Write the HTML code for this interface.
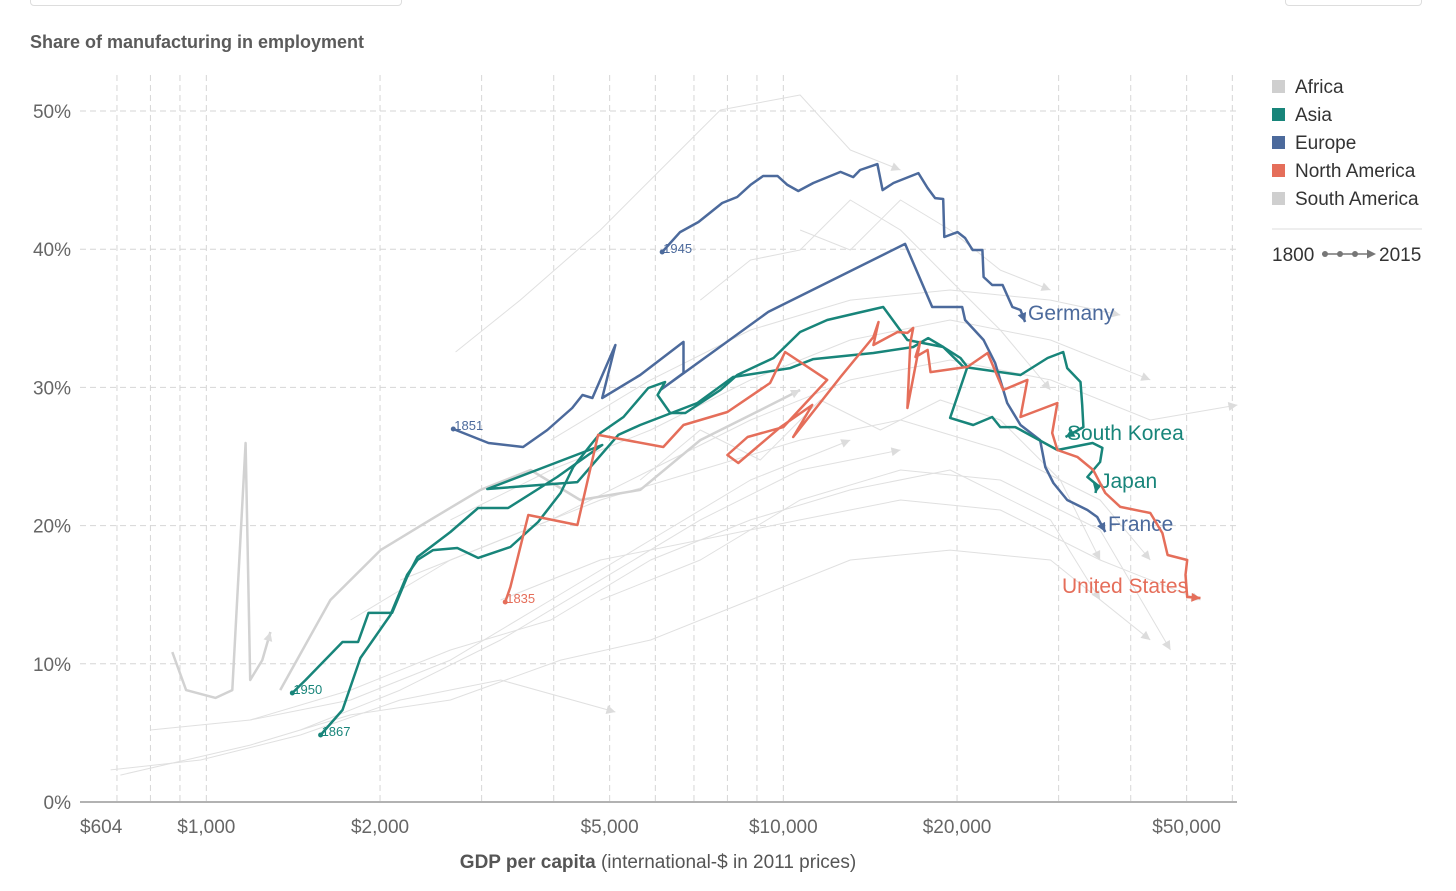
<!DOCTYPE html>
<html><head><meta charset="utf-8">
<style>
body{margin:0;background:#fff;font-family:"Liberation Sans",sans-serif;}
#wrap{position:relative;width:1456px;height:891px;overflow:hidden;background:#fff}
svg text{font-family:"Liberation Sans",sans-serif}
</style></head>
<body>
<div id="wrap">
<div style="position:absolute;left:30px;top:-8px;width:370px;height:12px;border:1px solid #ddd;border-radius:4px"></div>
<div style="position:absolute;left:1285px;top:-8px;width:135px;height:12px;border:1px solid #ddd;border-radius:4px"></div>
<svg id="chart" width="1456" height="891" style="position:absolute;left:0;top:0"></svg>
</div>
<script>
// ---- data: log10 GDP per capita and manufacturing share (%) ----
const yTicks=[0,10,20,30,40,50];
const yTickLabels=["0%","10%","20%","30%","40%","50%"];
const xGrid=[700,800,900,1000,2000,3000,4000,5000,6000,7000,8000,9000,10000,20000,30000,40000,50000,60000];
const xTicks=[604,1000,2000,5000,10000,20000,50000];
const xTickLabels=["$604","$1,000","$2,000","$5,000","$10,000","$20,000","$50,000"];

const germanyLg=[3.790,3.821,3.853,3.894,3.920,3.943,3.965,3.990,4.007,4.026,4.052,4.099,4.121,4.133,4.163,4.172,4.191,4.234,4.250,4.263,4.277,4.279,4.302,4.315,4.328,4.345,4.347,4.362,4.380,4.397,4.411,4.419];
const germanyPct=[39.80,41.24,41.97,43.34,43.78,44.65,45.30,45.30,44.65,44.21,44.79,45.59,45.22,45.73,46.16,44.28,44.79,45.51,44.43,43.70,43.63,40.88,41.24,40.81,39.94,39.94,37.99,37.41,37.41,35.82,35.60,34.73];

const franceLg=[3.428,3.489,3.549,3.591,3.634,3.652,3.669,3.709,3.686,3.752,3.827,3.827,3.787,3.974,4.211,4.258,4.310,4.315,4.347,4.367,4.388,4.411,4.445,4.454,4.468,4.492,4.527,4.544,4.558];
const francePct=[26.99,25.98,25.69,26.92,28.51,29.45,29.23,33.07,29.23,30.90,33.29,31.04,29.81,35.46,40.38,35.82,35.82,34.88,33.43,31.77,28.87,27.28,26.19,24.24,23.08,21.85,21.13,20.62,19.54];

const japanLg=[3.198,3.236,3.267,3.319,3.348,3.366,3.393,3.435,3.471,3.527,3.575,3.614,3.636,3.666,3.683,3.723,3.766,3.795,3.782,3.804,3.830,3.891,3.920,3.983,4.029,4.076,4.128,4.173,4.215,4.277,4.307,4.319,4.289,4.329,4.362,4.376,4.402,4.475,4.536,4.553,4.549,4.527,4.544,4.541];
const japanPct=[4.85,6.66,10.42,13.53,16.43,17.51,18.23,18.38,17.66,18.45,20.26,22.36,24.24,25.83,26.70,27.86,29.96,30.39,29.45,28.15,28.15,29.81,30.90,32.13,34.01,34.88,35.38,35.82,33.43,32.92,32.13,31.48,27.79,27.28,27.86,27.13,27.13,25.47,25.98,25.62,24.60,23.52,22.94,22.36];

const koreaLg=[3.149,3.172,3.236,3.263,3.281,3.322,3.348,3.366,3.423,3.471,3.523,3.608,3.686,3.487,3.643,3.714,3.752,3.851,3.913,4.012,4.052,4.156,4.225,4.251,4.277,4.312,4.411,4.458,4.485,4.492,4.515,4.518,4.520,4.489];
const koreaPct=[7.89,8.83,11.58,11.58,13.68,13.68,16.28,17.73,19.54,21.27,21.27,23.52,25.83,22.65,23.15,26.56,27.28,28.87,30.75,31.40,32.05,32.49,32.92,33.57,32.92,31.48,30.90,32.13,32.56,31.40,30.39,28.73,27.13,26.41];

const usLg=[3.518,3.527,3.558,3.643,3.679,3.792,3.827,3.903,3.977,4.003,4.076,4.000,3.938,3.903,3.922,3.995,4.050,4.017,4.099,4.156,4.165,4.156,4.198,4.215,4.225,4.220,4.215,4.237,4.229,4.250,4.255,4.319,4.354,4.381,4.423,4.411,4.475,4.466,4.475,4.510,4.537,4.558,4.584,4.636,4.657,4.666,4.700,4.697,4.700,4.723];
const usPct=[14.47,15.56,20.77,20.04,26.56,25.69,27.28,28.22,30.32,32.56,30.54,27.13,26.41,25.11,24.53,27.13,28.73,26.41,30.75,33.65,34.73,33.07,34.01,33.94,34.30,33.21,28.51,33.29,32.20,32.71,31.11,31.48,32.49,29.81,30.54,27.86,28.87,26.70,25.47,24.96,24.02,22.36,21.35,20.91,19.46,17.87,17.51,16.43,14.83,14.76];

const grey1Lg=[2.941,2.965,3.016,3.045,3.068,3.076,3.097,3.111];
const grey1Pct=[10.85,8.10,7.53,8.10,25.98,8.83,10.27,12.30];
const grey2Lg=[3.128,3.215,3.302,3.388,3.475,3.562,3.648,3.752,3.856,3.960,4.029];
const grey2Pct=[8.10,14.62,18.23,20.41,22.58,24.02,21.85,22.58,26.19,28.36,29.81];
const grey3Lg=[2.834,2.990,3.163,3.336,3.510,3.709];
const grey3Pct=[2.32,3.04,4.85,7.38,8.83,6.51];
const grey4Lg=[2.851,3.076,3.250,3.423,3.614,3.770,3.943,4.116,4.289,4.463,4.636];
const grey4Pct=[1.95,4.12,6.30,7.38,10.27,11.72,14.62,17.51,18.23,17.51,11.72];
const grey5Lg=[3.432,3.544,3.683,3.804,3.891,4.029,4.116,4.203];
const grey5Pct=[32.56,36.32,41.39,46.45,50.07,51.16,47.18,45.73];
const grey6Lg=[3.250,3.423,3.597,3.770,3.943,4.116,4.289,4.463,4.636,4.787];
const grey6Pct=[13.17,17.51,20.41,24.02,27.64,30.54,31.98,30.54,27.64,28.73];
const grey7Lg=[3.336,3.510,3.683,3.856,4.029,4.203,4.376,4.549,4.636];
const grey7Pct=[16.06,18.96,21.85,24.02,26.19,27.64,25.47,21.85,17.51];
const grey8Lg=[3.597,3.770,3.943,4.116,4.289,4.463,4.584];
const grey8Pct=[26.19,30.54,34.15,36.32,37.05,36.32,35.24];
const grey9Lg=[3.683,3.856,4.029,4.203,4.376,4.549,4.671];
const grey9Pct=[14.62,17.51,21.85,24.02,23.30,19.68,11.00];
const grey10Lg=[3.163,3.336,3.510,3.683,3.856,4.029,4.203];
const grey10Pct=[5.21,8.10,11.72,16.06,20.41,24.02,25.47];
const grey11Lg=[4.029,4.116,4.203,4.289,4.376,4.463];
const grey11Pct=[41.39,39.94,43.56,41.39,38.49,37.05];
const grey12Lg=[3.752,3.856,3.960,4.064,4.168,4.272,4.376,4.480,4.549];
const grey12Pct=[23.30,26.92,24.75,29.09,26.92,29.09,27.64,23.30,17.51];
const grey13Lg=[3.423,3.597,3.770,3.943,4.116,4.289,4.463,4.636];
const grey13Pct=[20.41,24.02,26.92,30.54,33.43,34.88,33.43,30.54];
const grey14Lg=[3.076,3.250,3.423,3.597,3.770,3.943,4.116,4.289,4.463,4.549];
const grey14Pct=[5.93,8.10,11.00,13.17,17.51,20.41,22.58,24.02,20.41,14.62];
const grey15Lg=[3.856,3.943,4.029,4.116,4.203,4.289,4.376,4.463];
const grey15Pct=[36.32,39.22,39.94,43.56,41.39,37.77,34.15,29.81];
const grey16Lg=[3.510,3.683,3.856,4.029,4.203,4.376,4.549,4.723];
const grey16Pct=[14.62,17.51,18.96,20.41,21.85,21.13,17.51,14.62];
const grey17Lg=[2.903,3.076,3.250,3.423,3.597,3.770,3.943,4.116];
const grey17Pct=[5.21,5.93,7.38,10.27,14.62,18.96,23.30,26.19];

// ---- scales ----
const X0=80,X1=1237,PX_PER_DEC=577,LMIN=Math.log10(604);
const Y0=802,PX_PER_PCT=13.82;
function xs(lg){return X0+(lg-LMIN)*PX_PER_DEC;}
function xv(v){return xs(Math.log10(v));}
function ys(p){return Y0-p*PX_PER_PCT;}

const NS="http://www.w3.org/2000/svg";
const svg=document.getElementById('chart');
function mk(tag,attrs,parent){const e=document.createElementNS(NS,tag);for(const k in attrs)e.setAttribute(k,attrs[k]);(parent||svg).appendChild(e);return e;}

let t=mk('text',{x:30,y:48,'font-size':18,'font-weight':'bold',fill:'#5b5b5b'});
t.textContent='Share of manufacturing in employment';



const grid=mk('g',{});


yTicks.forEach((v,i)=>{
  if(v>0){const l=mk('line',{x1:X0,x2:X1,y1:ys(v),y2:ys(v),stroke:'#d6d6d6','stroke-dasharray':'6,4'},grid);
  
  }
  const tx=mk('text',{x:71,y:ys(v)+7,'font-size':19,fill:'#666','text-anchor':'end'});
  tx.textContent=yTickLabels[i];
  
  
});
xGrid.forEach(v=>{
  const l=mk('line',{x1:xv(v),x2:xv(v),y1:75,y2:Y0,stroke:'#d6d6d6','stroke-dasharray':'6,4'},grid);
  
  
});
xTicks.forEach((v,i)=>{
  const tx=mk('text',{x:i==0?X0:xv(v),y:833,'font-size':19,fill:'#666','text-anchor':i==0?'start':'middle'});
  tx.textContent=xTickLabels[i];
  
  
});
const ax=mk('line',{x1:X0,x2:X1,y1:Y0,y2:Y0,stroke:'#999','stroke-width':1.5});



const xt=mk('text',{x:658,y:868,'font-size':19,fill:'#555','text-anchor':'middle'});
xt.innerHTML='<tspan font-weight="bold">GDP per capita</tspan> (international-$ in 2011 prices)';



function line(lgs,pcts,color,w,name){
  const pts=lgs.map((l,i)=>xs(l).toFixed(1)+','+ys(pcts[i]).toFixed(1)).join(' ');
  const p=mk('polyline',{points:pts,fill:'none',stroke:color,'stroke-width':w,'stroke-linejoin':'round'});
  
  
  return p;
}
function arrow(lgs,pcts,color,name){
  const n=lgs.length,x=xs(lgs[n-1]),y=ys(pcts[n-1]),px=xs(lgs[n-2]),py=ys(pcts[n-2]);
  const a=Math.atan2(y-py,x-px)*180/Math.PI;
  const g=mk('polygon',{points:'0,0 -9,-4.5 -9,4.5',fill:color,transform:`translate(${x},${y}) rotate(${a})`});
  
  
}
const greys=[[grey3Lg,grey3Pct,1],[grey4Lg,grey4Pct,1],[grey5Lg,grey5Pct,1],[grey6Lg,grey6Pct,1],[grey7Lg,grey7Pct,1],[grey8Lg,grey8Pct,1],[grey9Lg,grey9Pct,1],[grey10Lg,grey10Pct,1],[grey11Lg,grey11Pct,1],[grey12Lg,grey12Pct,1],[grey13Lg,grey13Pct,1],[grey14Lg,grey14Pct,1],[grey15Lg,grey15Pct,1],[grey16Lg,grey16Pct,1],[grey17Lg,grey17Pct,1],[grey1Lg,grey1Pct,2.5],[grey2Lg,grey2Pct,2.5]];
greys.forEach(g=>{line(g[0],g[1],g[2]>1?'#d2d2d2':'#e0e0e0',g[2],'background-country-line');arrow(g[0],g[1],'#dcdcdc','background-arrow');});

const series=[
 [germanyLg,germanyPct,'#4c6a9c','germany-line','1945','Germany',1028,320],
 [franceLg,francePct,'#4c6a9c','france-line','1851','France',1108,531],
 [japanLg,japanPct,'#18857a','japan-line','1867','Japan',1100,488],
 [koreaLg,koreaPct,'#18857a','south-korea-line','1950','South Korea',1067,440],
 [usLg,usPct,'#e56e5a','united-states-line','1835','United States',1062,593]
];
series.forEach(s=>{
  line(s[0],s[1],s[2],2.5,s[3]);
  arrow(s[0],s[1],s[2],s[3]+'-arrow');
  const x=xs(s[0][0]),y=ys(s[1][0]);
  const c=mk('circle',{cx:x,cy:y,r:2.5,fill:s[2]});
  
  
  const yr=mk('text',{x:x+1,y:y+1,'font-size':13,fill:s[2]});
  yr.textContent=s[4];
  
  
  const lb=mk('text',{x:s[6],y:s[7],'font-size':21,fill:s[2]});
  lb.textContent=s[5];
  
  
});

const legendItems=[['Africa','#cfcfcf'],['Asia','#18857a'],['Europe','#4c6a9c'],['North America','#e56e5a'],['South America','#cfcfcf']];
legendItems.forEach((it,i)=>{
  const y=86+i*28;
  const r=mk('rect',{x:1272,y:y-6,width:13,height:13,fill:it[1]});
  
  
  const tx=mk('text',{x:1295,y:y+7,'font-size':19,fill:'#333'});
  tx.textContent=it[0];
  
  
});
const sep=mk('line',{x1:1272,x2:1422,y1:229,y2:229,stroke:'#ddd'});


const t1=mk('text',{x:1272,y:261,'font-size':19,fill:'#333'});t1.textContent='1800';


const t2=mk('text',{x:1379,y:261,'font-size':19,fill:'#333'});t2.textContent='2015';


const tl=mk('line',{x1:1322,x2:1368,y1:254,y2:254,stroke:'#777','stroke-width':1.5});


[1325,1340,1355].forEach(cx=>{const c=mk('circle',{cx:cx,cy:254,r:3,fill:'#777'});

});
const ta=mk('polygon',{points:'1376,254 1367,249.5 1367,258.5',fill:'#777'});


</script>
</body></html>
